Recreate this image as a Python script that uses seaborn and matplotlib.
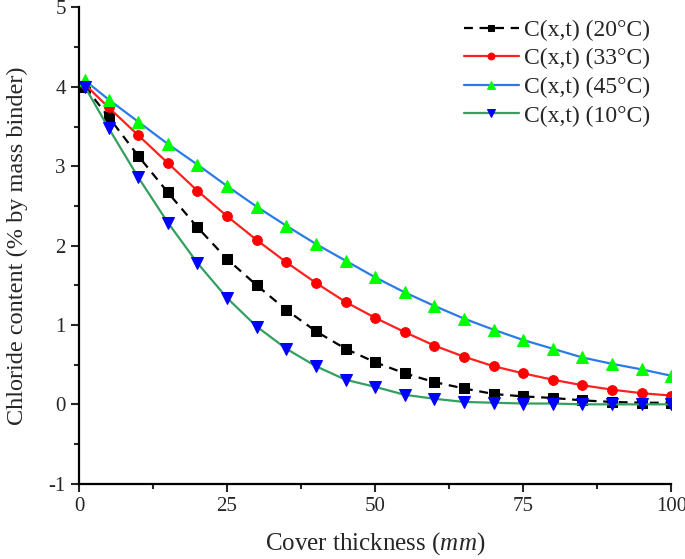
import matplotlib
matplotlib.use("Agg")
import matplotlib.pyplot as plt
from matplotlib.ticker import MultipleLocator
import seaborn as sns
import pandas as pd

# cover depth (mm)
depth = [1, 5, 10, 15, 20, 25, 30, 35, 40, 45, 50, 55, 60, 65, 70, 75, 80, 85, 90, 95, 100]

c20 = [4.00, 3.62, 3.13, 2.67, 2.23, 1.83, 1.50, 1.19, 0.92, 0.70, 0.53, 0.39, 0.28, 0.20,
       0.13, 0.10, 0.08, 0.05, 0.03, 0.02, 0.02]
c33 = [4.03, 3.74, 3.39, 3.04, 2.69, 2.37, 2.07, 1.79, 1.53, 1.29, 1.09, 0.91, 0.74, 0.60,
       0.48, 0.39, 0.31, 0.24, 0.185, 0.14, 0.11]
c45 = [4.08, 3.84, 3.56, 3.28, 3.02, 2.75, 2.49, 2.25, 2.02, 1.81, 1.60, 1.41, 1.24, 1.08,
       0.94, 0.81, 0.70, 0.59, 0.51, 0.44, 0.36]
c10 = [4.00, 3.48, 2.86, 2.29, 1.78, 1.34, 0.98, 0.70, 0.48, 0.31, 0.22, 0.12, 0.07, 0.03,
       0.02, 0.01, 0.01, 0.0, 0.0, 0.0, 0.0]

labels = ["C(x,t) (20°C)", "C(x,t) (33°C)", "C(x,t) (45°C)", "C(x,t) (10°C)"]

sns.set_style("ticks")
plt.rcParams['font.family'] = ['Liberation Serif', 'DejaVu Serif']
plt.rcParams['mathtext.fontset'] = 'custom'
plt.rcParams['mathtext.it'] = 'Liberation Serif:italic'
plt.rcParams['mathtext.rm'] = 'Liberation Serif'
plt.rcParams['axes.unicode_minus'] = False

df = pd.DataFrame({"x": depth, "c20": c20, "c33": c33, "c45": c45, "c10": c10})

fig = plt.figure(figsize=(6.85, 5.59), dpi=100)
ax = fig.add_axes([0.1153, 0.1347, 0.8647, 0.852])

# line colour, marker, marker colour, linestyle, marker size
styles = [
    ("c20", "black", "s", "black", (0, (4, 3)), 6.5),
    ("c33", "#ff2020", "o", "#ff0000", "-", 7),
    ("c45", "#2a7be8", "^", "#00ff00", "-", 8.5),
    ("c10", "#33a060", "v", "#0000ff", "-", 8.5),
]
for (col, lc, mk, mc, ls, ms), lab in zip(styles, labels):
    sns.lineplot(data=df, x="x", y=col, ax=ax, color=lc, marker=mk, markersize=ms,
                 markerfacecolor=mc, markeredgecolor=mc, linestyle=ls,
                 linewidth=1.6, label=lab)

ax.set_xlim(0, 100)
ax.set_ylim(-1, 5)
ax.xaxis.set_major_locator(MultipleLocator(25))
ax.xaxis.set_minor_locator(MultipleLocator(12.5))
ax.yaxis.set_major_locator(MultipleLocator(1))
ax.yaxis.set_minor_locator(MultipleLocator(0.5))
ax.tick_params(which='major', length=6, width=1.5, labelsize=15, direction='out')
ax.tick_params(which='minor', length=3.5, width=1.5, direction='out')
for s in ["left", "bottom"]:
    ax.spines[s].set_linewidth(1.6)
    ax.spines[s].set_color("black")
sns.despine(ax=ax)

ax.set_xlabel("Cover thickness ($mm$)", fontsize=18, labelpad=10.5)
ax.set_ylabel("Chloride content (% by mass binder)", fontsize=17.5, labelpad=15)

leg = ax.legend(loc="upper right", frameon=False, fontsize=17, handlelength=2.3,
                handletextpad=0.25, labelspacing=0.3, borderaxespad=0.1,
                markerscale=0.7, bbox_to_anchor=(0.985, 1.0))

fig.savefig("out.png", dpi=100)
